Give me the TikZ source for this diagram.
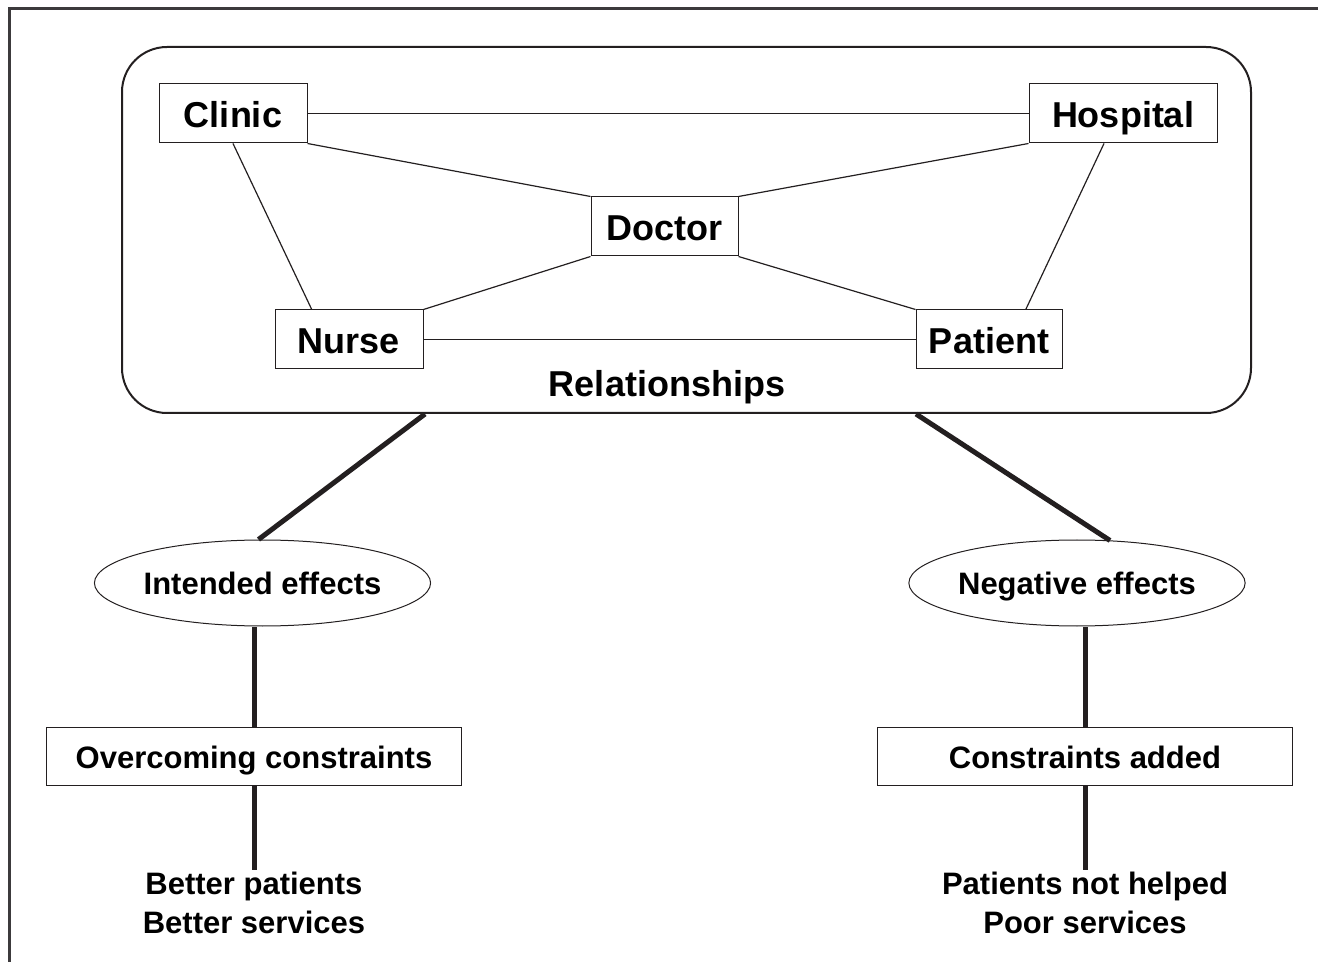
\documentclass[tikz,border=0pt]{standalone}
\usepackage{fontspec}
\setmainfont{Liberation Sans}
\usepackage{tikz}
\usetikzlibrary{shapes.geometric}
\usetikzlibrary{calc}
\definecolor{dgrey}{RGB}{35,31,32}
\definecolor{fgrey}{RGB}{60,58,60}

\begin{document}
\begin{tikzpicture}[x=0.5pt,y=-0.5pt,line width=0.5pt,
    link/.style={draw=dgrey,line width=0.6pt},
    boldlink/.style={draw=dgrey,line width=2.5pt}]
      \tikzstyle{actor}=[draw=dgrey,rectangle,inner sep=0pt,minimum height=29.5pt,text height=16pt,text depth=1.5pt,font=\fontsize{18}{21}\selectfont\bfseries]
      \tikzstyle{effect}=[draw=dgrey,ellipse,inner sep=0pt,minimum width=161pt,minimum height=43pt,text height=14pt,text depth=2pt,font=\fontsize{15.5}{18}\selectfont\bfseries]
      \tikzstyle{result}=[draw=dgrey,rectangle,inner sep=0pt,minimum width=207.5pt,minimum height=29pt,text height=14pt,text depth=2pt,font=\fontsize{15.5}{18}\selectfont\bfseries]
      \tikzstyle{outcome}=[align=center,inner sep=1pt,font=\fontsize{15.5}{19.5}\selectfont\bfseries]

      \useasboundingbox (0,0) rectangle (1318,962);
      % frame
      \draw[fgrey,line width=1.5pt] (9,962) -- (9,9) -- (1318,9);

      % relationships container
      \node[draw=dgrey,line width=1pt,rounded corners=22.5pt,inner sep=0pt,
            minimum width=564.5pt,minimum height=183pt] (rel) at (686.5,230) {};
      \node[font=\fontsize{18}{21}\selectfont\bfseries] (rellabel) at (667,387) {Relationships};

      \node[actor,minimum width=74pt]	(clinic)   at (233,113.5)  {Clinic};
      \node[actor,minimum width=94pt]	(hospital) at (1123,113.5) {Hospital};
      \node[actor,minimum width=73.5pt]	(doctor)   at (664.5,226.5) {Doctor};
      \node[actor,minimum width=74pt]	(nurse)    at (349,339.5)  {Nurse};
      \node[actor,minimum width=73pt]	(patient)  at (989,339.5)  {Patient};

      \coordinate (nursetop)   at ($(nurse.north west)!.5!(nurse.north)$);
      \coordinate (patienttop) at ($(patient.north)!.5!(patient.north east)$);
      \coordinate (hospbot)    at ($(hospital.south)+(-19,0)$);

      \path[link]
	(clinic)		edge	(hospital)
	(clinic.south east)	edge	(doctor.north west)
	(hospital.south west)	edge	(doctor.north east)
	(doctor.south west)	edge	(nurse.north east)
	(doctor.south east)	edge	(patient.north west)
	(nurse)			edge	(patient)
	(clinic.south)		edge	(nursetop)
	(hospbot)		edge	(patienttop);

      % effects
      \node[effect]	(intended) at (262.5,583) {Intended effects};
      \node[effect]	(negative) at (1077,583)  {Negative effects};
      \node[result]	(overcome) at (254,756)   {Overcoming constraints};
      \node[result]	(added)    at (1085,756)  {Constraints added};
      \node[outcome,anchor=north] (better) at (254,870)  {Better patients\\Better services};
      \node[outcome,anchor=north] (poor)   at (1085,870) {Patients not helped\\Poor services};

      \coordinate (relleft)  at ($(rel.south)+(-261.5,0)$);
      \coordinate (relright) at ($(rel.south)+(229.5,0)$);
      \coordinate (negtop)   at ($(negative.north)+(33,1)$);

      \path[boldlink]
	(relleft)		edge	([xshift=-2pt]intended.north)
	(relright)		edge	(negtop)
	(overcome.north)	edge	(overcome.north |- intended.south)
	(added.north)		edge	(added.north |- negative.south)
	(overcome)		edge	(better)
	(added)			edge	(poor);

  \end{tikzpicture}
\end{document}
